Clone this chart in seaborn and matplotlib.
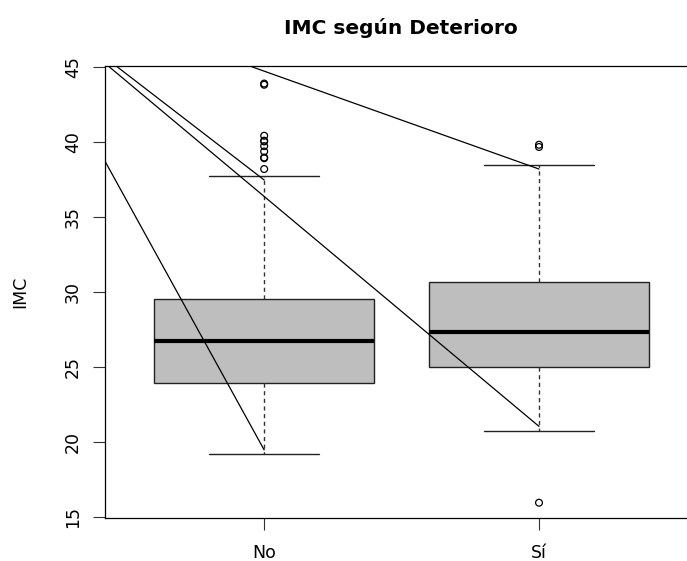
import matplotlib
matplotlib.use("Agg")
import matplotlib.pyplot as plt
import seaborn as sns

# values
groups = ["No", "Sí"]
q1 = [23.91, 24.95]
medians = [26.73, 27.33]
q3 = [29.49, 30.67]
whisker_low = [19.15, 20.71]
whisker_high = [37.69, 38.47]
outliers_no = [43.80, 43.88, 40.40, 40.07, 40.02, 39.71, 39.35, 38.95, 38.90, 38.18]
outliers_si = [39.80, 39.65, 15.93]

# straight segments drawn over the boxes (start / end, data units)
seg_x0 = [0.42, 0.465, 0.436, 0.955]
seg_y0 = [38.73, 45.0, 45.0, 45.0]
seg_x1 = [1.0, 1.0, 2.0, 2.0]
seg_y1 = [19.45, 37.45, 21.02, 38.18]

sns.set_style("white")
plt.rcParams['font.family'] = ['DejaVu Sans']
plt.rcParams['text.color'] = 'black'
plt.rcParams['xtick.color'] = 'black'
plt.rcParams['ytick.color'] = 'black'

fig = plt.figure(figsize=(6.87, 5.61), dpi=100)
ax = fig.add_axes([0.1525, 0.0761, 0.8641, 0.8057])

stats = []
for i in range(len(groups)):
    stats.append({
        'label': groups[i],
        'q1': q1[i], 'med': medians[i], 'q3': q3[i],
        'whislo': whisker_low[i], 'whishi': whisker_high[i],
        'fliers': [],
    })

ax.bxp(stats, positions=[1, 2], widths=0.8, capwidths=0.4,
       patch_artist=True, showfliers=False,
       boxprops=dict(facecolor='#bebebe', edgecolor='#222222', linewidth=1.0),
       medianprops=dict(color='black', linewidth=3.0, solid_capstyle='butt'),
       whiskerprops=dict(color='#333333', linewidth=1.0, linestyle=(0, (3, 2.5))),
       capprops=dict(color='#222222', linewidth=1.0))

fx = [1] * len(outliers_no) + [2] * len(outliers_si)
fy = outliers_no + outliers_si
sns.scatterplot(x=fx, y=fy, ax=ax, marker='o', s=24, facecolor='none',
                edgecolor='black', linewidth=0.9, zorder=4)

for i in range(len(seg_x0)):
    sns.lineplot(x=[seg_x0[i], seg_x1[i]], y=[seg_y0[i], seg_y1[i]], ax=ax,
                 color='black', linewidth=0.9, estimator=None, sort=False, zorder=5)

ax.set_xlim(0.42, 2.58)
ax.set_ylim(14.89, 45.03)
ax.set_xticks([1, 2])
ax.set_xticklabels(groups)
ax.set_yticks([15, 20, 25, 30, 35, 40, 45])
ax.set_yticklabels(['15', '20', '25', '30', '35', '40', '45'], rotation=90, va='center')
ax.tick_params(axis='both', labelsize=12.5, length=8.5, width=0.8, color='#333333',
               labelcolor='black', direction='out', left=True, bottom=True)
ax.tick_params(axis='y', pad=8)
ax.tick_params(axis='x', pad=10)
for side in ['left', 'bottom', 'top', 'right']:
    ax.spines[side].set_color('black')
    ax.spines[side].set_linewidth(0.9)

fig.text(400.5 / 687, 1 - 34 / 561, 'IMC según Deterioro', ha='center',
         va='baseline', fontsize=14.5, fontweight='bold', color='black')
fig.text(20 / 687, 1 - 292 / 561, 'IMC', rotation=90, ha='center',
         va='center', fontsize=12.5, color='black')

fig.savefig('out.png', dpi=100)
